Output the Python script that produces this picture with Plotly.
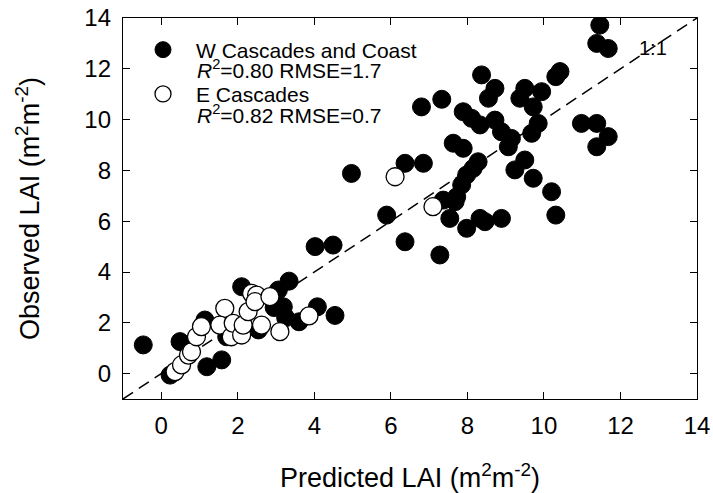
import plotly.graph_objects as go

# W Cascades and Coast (filled)
w_pred = [11.46, 11.38, 11.68, 10.42, 10.31, 8.37, 8.72, 8.55, 7.33, 9.50, 9.94, 9.37, 9.72,
          7.89, 8.11, 8.33, 8.72, 8.89, 9.15, 9.07, 9.85, 9.68, 10.98, 11.38, 11.68, 11.38,
          7.63, 7.89, 8.28, 8.15, 7.98, 7.85, 7.72, 7.37, 7.68, 7.54, 7.98, 8.33, 8.46, 8.89,
          9.24, 9.50, 9.72, 10.20, 10.31, 7.28, 6.80, 6.85, 6.37,
          4.97, 5.89, 6.37, 4.02, 4.49, 3.34, 4.08, 4.54, 3.60, 3.19, 3.25, 3.06,
          -0.47, 0.49, 0.23, 1.19, 1.14, 1.58, 2.10, 2.54, 1.71, 2.95]
w_obs = [13.72, 13.00, 12.80, 11.89, 11.69, 11.76, 11.23, 10.84, 10.80, 11.23, 11.10, 10.84, 10.50,
         10.31, 10.05, 9.79, 9.98, 9.52, 9.26, 8.93, 9.85, 9.46, 9.85, 9.85, 9.33, 8.93,
         9.07, 8.87, 8.34, 8.08, 7.82, 7.43, 6.96, 6.83, 6.77, 6.11, 5.72, 6.11, 5.98, 6.11,
         8.02, 8.41, 7.69, 7.16, 6.24, 4.67, 10.50, 8.28, 8.28,
         7.88, 6.24, 5.19, 5.00, 5.06, 3.64, 2.63, 2.29, 2.04, 2.63, 2.20, 3.29,
         1.13, 1.26, -0.06, 0.27, 2.11, 0.54, 3.42, 1.72, 1.45, 2.60]

# E Cascades (open)
e_pred = [0.36, 0.53, 0.71, 0.79, 0.92, 1.05, 1.66, 1.53, 1.83, 1.88, 2.10, 2.14, 2.27,
          2.36, 2.49, 2.45, 2.62, 2.84, 3.10, 3.86, 6.11, 7.10]
e_obs = [0.08, 0.34, 0.73, 0.86, 1.45, 1.85, 2.57, 1.91, 1.45, 1.98, 1.52, 1.91, 2.44,
         3.16, 3.09, 2.83, 1.91, 3.03, 1.65, 2.27, 7.75, 6.57]

one_to_one = [-1, 14]
ticks = [0, 2, 4, 6, 8, 10, 12, 14]
stats = ["<i>R</i><sup>2</sup>=0.80 RMSE=1.7", "<i>R</i><sup>2</sup>=0.82 RMSE=0.7"]

FONT = "Liberation Sans, Arial, sans-serif"
L, R, T, B, W, H = 123, 16, 18, 94, 713, 493
PW, PH = W - L - R, H - T - B

fig = go.Figure()
fig.add_trace(go.Scatter(
    x=one_to_one, y=one_to_one, mode="lines", showlegend=False,
    line=dict(color="black", width=1.5, dash="12px,7px"), hoverinfo="skip"))
fig.add_trace(go.Scatter(
    x=w_pred, y=w_obs, mode="markers", name="W Cascades and Coast", legendgroup="w",
    marker=dict(size=18, color="black", line=dict(color="black", width=1))))
fig.add_trace(go.Scatter(
    x=e_pred, y=e_obs, mode="markers", name="E Cascades", legendgroup="e",
    marker=dict(size=18, color="white", line=dict(color="black", width=1.3))))

axis_common = dict(
    showline=True, linecolor="black", linewidth=1.3, mirror="ticks",
    ticks="inside", ticklen=7, tickwidth=1.3, tickcolor="black",
    tickvals=ticks, showgrid=False, zeroline=False, automargin=False,
    ticklabeloverflow="allow",
    tickfont=dict(family=FONT, size=24, color="black"),
)

fig.update_layout(
    width=W, height=H,
    margin=dict(l=L, r=R, t=T, b=B),
    paper_bgcolor="white", plot_bgcolor="white",
    font=dict(family=FONT, color="black"),
    xaxis=dict(range=[-1, 14], **axis_common, ticklabelstandoff=5,
               title=dict(text="Predicted LAI (m<sup>2</sup>m<sup>-2</sup>)",
                          font=dict(family=FONT, size=27, color="black"), standoff=33)),
    yaxis=dict(range=[-1, 14], **axis_common, ticklabelstandoff=6,
               title=dict(text="Observed LAI (m<sup>2</sup>m<sup>-2</sup>)",
                          font=dict(family=FONT, size=27, color="black"), standoff=36)),
    legend=dict(x=(130 - L) / PW, y=1 - (29.5 - T) / PH, xanchor="left", yanchor="top",
                font=dict(family=FONT, size=21, color="black"),
                bgcolor="rgba(0,0,0,0)", tracegroupgap=14, itemwidth=56),
    showlegend=True,
)

fig.add_annotation(x=12.85, y=12.82, xref="x", yref="y", text="1:1", showarrow=False,
                   font=dict(family=FONT, size=20, color="black"))

# R^2 lines under each legend entry (paper coordinates)
for label, ypix in zip(stats, [69.2, 114.2]):
    fig.add_annotation(x=(198 - L) / PW, y=1 - (ypix - T) / PH,
                       xref="paper", yref="paper", xanchor="left", yanchor="middle",
                       text=label, showarrow=False, xshift=-3,
                       font=dict(family=FONT, size=21, color="black"))

# remove the default 8px page margin so the figure fills the window exactly
fig.write_html("out.html", config={"displayModeBar": False},
               post_script="document.body.style.margin='0';document.body.style.overflow='hidden';")
